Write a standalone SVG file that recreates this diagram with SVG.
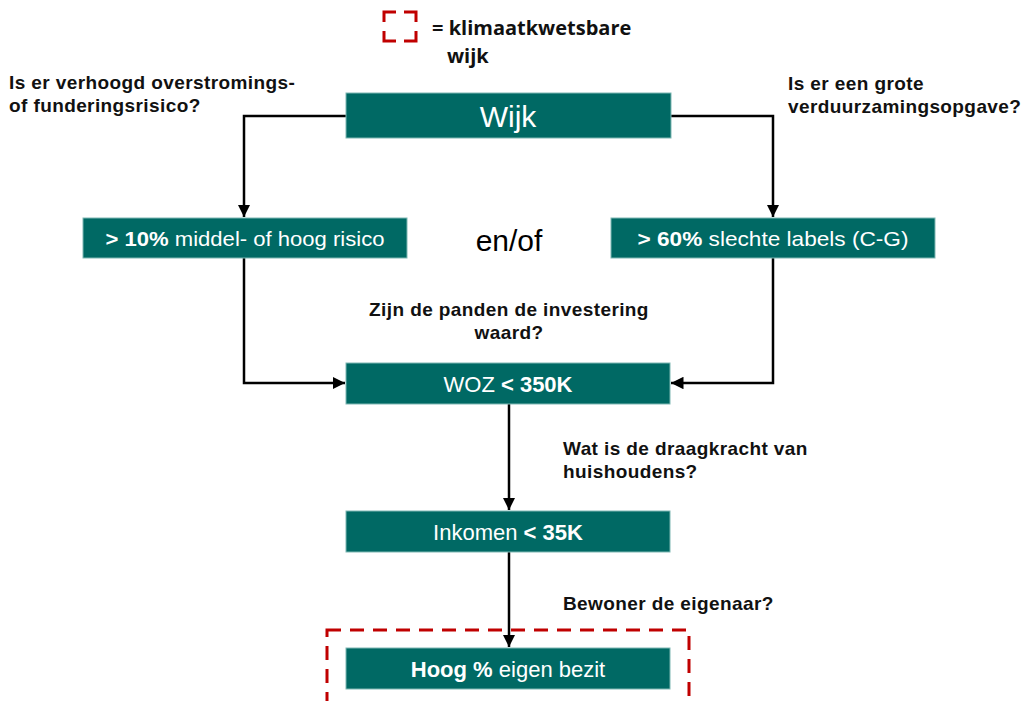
<svg xmlns="http://www.w3.org/2000/svg" width="1029" height="701" viewBox="0 0 1029 701">
<defs>
<style>
.box{fill:#006964;stroke:#7fb8b3;stroke-width:1}
.bt{font-family:"Liberation Sans",Arial,sans-serif;fill:#ffffff;text-anchor:middle}
.q{font-family:"Liberation Sans",Arial,sans-serif;font-weight:bold;font-size:19px;letter-spacing:0.4px;fill:#111}
.leg{font-family:"Open Sans","Liberation Sans",sans-serif;font-weight:bold;font-size:20px;fill:#111}
.ln{fill:none;stroke:#000;stroke-width:2.5}
.dash{fill:none;stroke:#c00000;stroke-width:3;stroke-dasharray:14 9}
</style>
<marker id="ah" viewBox="0 0 10 10" refX="10" refY="5" markerWidth="5" markerHeight="5" orient="auto" markerUnits="strokeWidth">
<path d="M0,0 L10,5 L0,10 z" fill="#000"/>
</marker>
</defs>
<rect width="1029" height="701" fill="#fff"/>

<g id="legend">
<path d="M384,22 V12 H396 M404,12 H416 V22 M416,31 V41 H404 M396,41 H384 V31" fill="none" stroke="#c00000" stroke-width="3"/>
<text class="leg" x="432" y="35">= klimaatkwetsbare</text>
<text class="leg" x="447" y="63">wijk</text>
</g>

<g id="connectors">
<polyline class="ln" points="346,116 244,116 244,217" marker-end="url(#ah)"/>
<polyline class="ln" points="671,116 773,116 773,217" marker-end="url(#ah)"/>
<polyline class="ln" points="244,258 244,383 345,383" marker-end="url(#ah)"/>
<polyline class="ln" points="773,258 773,383 671,383" marker-end="url(#ah)"/>
<line class="ln" x1="509" y1="404" x2="509" y2="510" marker-end="url(#ah)"/>
<line class="ln" x1="509" y1="552" x2="509" y2="647" marker-end="url(#ah)"/>
</g>

<g id="q-left">
<text class="q" x="9" y="89">Is er verhoogd overstromings-</text>
<text class="q" x="9" y="112">of funderingsrisico?</text>
</g>
<g id="q-right">
<text class="q" x="788" y="90">Is er een grote</text>
<text class="q" x="788" y="113">verduurzamingsopgave?</text>
</g>
<g id="q-woz">
<text class="q" x="509" y="316" text-anchor="middle">Zijn de panden de investering</text>
<text class="q" x="509" y="339" text-anchor="middle">waard?</text>
</g>
<g id="q-inkomen">
<text class="q" x="563" y="455">Wat is de draagkracht van</text>
<text class="q" x="563" y="478">huishoudens?</text>
</g>
<g id="q-bezit">
<text class="q" x="563" y="610">Bewoner de eigenaar?</text>
</g>

<g id="wijk">
<rect class="box" x="346" y="93" width="325" height="45"/>
<text class="bt" x="508" y="127" font-size="30">Wijk</text>
</g>

<g id="risico">
<rect class="box" x="83" y="218" width="324" height="40"/>
<text class="bt" x="245" y="246" font-size="21" textLength="279" lengthAdjust="spacingAndGlyphs"><tspan font-weight="bold">&gt; 10%</tspan> middel- of hoog risico</text>
</g>

<g id="enof">
<text x="509" y="251" font-family="'Liberation Sans',Arial,sans-serif" font-size="30" text-anchor="middle" fill="#000">en/of</text>
</g>

<g id="labels">
<rect class="box" x="611" y="218" width="324" height="40"/>
<text class="bt" x="773" y="246" font-size="21" textLength="271" lengthAdjust="spacingAndGlyphs"><tspan font-weight="bold">&gt; 60%</tspan> slechte labels (C-G)</text>
</g>

<g id="woz">
<rect class="box" x="346" y="363" width="324" height="41"/>
<text class="bt" x="508" y="392" font-size="22">WOZ <tspan font-weight="bold">&lt; 350K</tspan></text>
</g>

<g id="inkomen">
<rect class="box" x="346" y="511" width="324" height="41"/>
<text class="bt" x="508" y="540" font-size="22">Inkomen <tspan font-weight="bold">&lt; 35K</tspan></text>
</g>

<g id="bezit">
<rect class="dash" x="327" y="630" width="362" height="90"/>
<rect class="box" x="346" y="648" width="324" height="41"/>
<text class="bt" x="508" y="677" font-size="22"><tspan font-weight="bold">Hoog %</tspan> eigen bezit</text>
</g>
</svg>
